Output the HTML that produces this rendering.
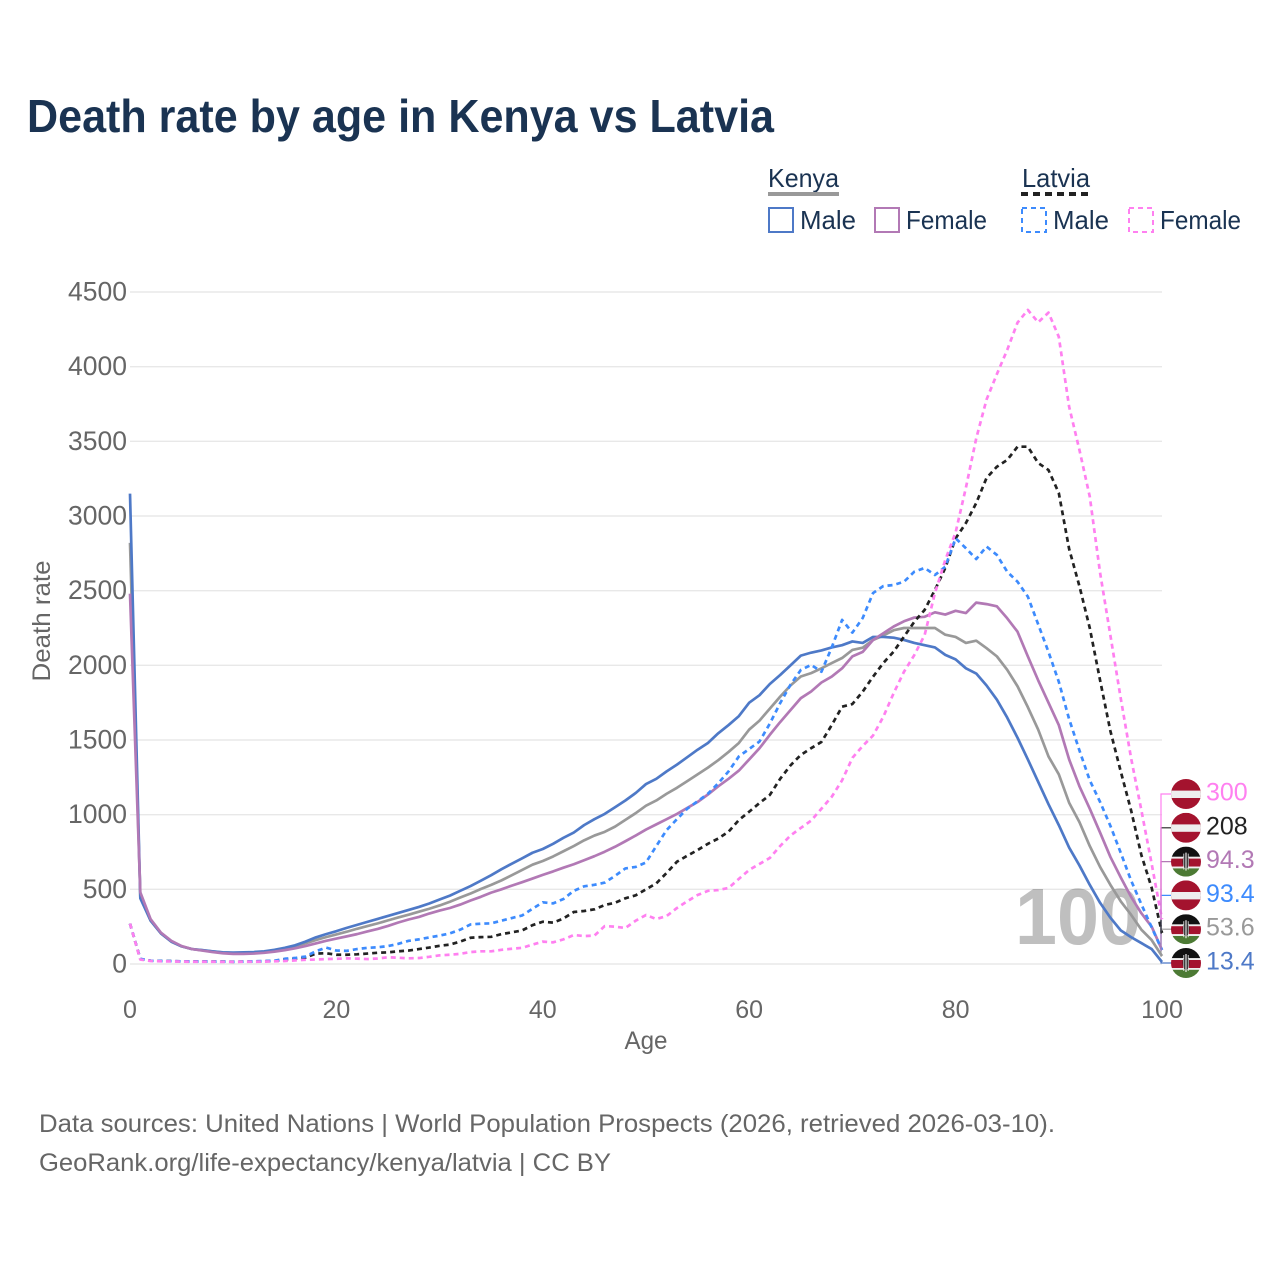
<!DOCTYPE html>
<html lang="en">
<head>
<meta charset="utf-8">
<title>Death rate by age in Kenya vs Latvia</title>
<style>
html,body{margin:0;padding:0;background:#fff;}
svg{display:block;font-family:"Liberation Sans",sans-serif;}
</style>
</head>
<body>
<svg id="chart" xmlns="http://www.w3.org/2000/svg" width="1280" height="1280" viewBox="0 0 1280 1280">
  <defs>
    <clipPath id="flag-clip"><circle cx="0" cy="0" r="15"></circle></clipPath>
  </defs>
  <rect width="1280" height="1280" fill="#fff"></rect>
  <text x="27" y="132" font-size="46" font-weight="700" fill="#1a3352" textLength="747" lengthAdjust="spacingAndGlyphs">Death rate by age in Kenya vs Latvia</text>

  <g font-size="26" fill="#1a3352">
    <text x="768" y="187" textLength="71" lengthAdjust="spacingAndGlyphs">Kenya</text>
    <line x1="768" y1="194" x2="839" y2="194" stroke="#999" stroke-width="4"></line>
    <text x="1022" y="187" textLength="68" lengthAdjust="spacingAndGlyphs">Latvia</text>
    <line x1="1021" y1="194" x2="1090" y2="194" stroke="#222" stroke-width="4" stroke-dasharray="7 5"></line>
    <rect x="769" y="208" width="24" height="24" fill="none" stroke="#4e79c7" stroke-width="2"></rect>
    <text x="800" y="229" textLength="56" lengthAdjust="spacingAndGlyphs">Male</text>
    <rect x="875" y="208" width="24" height="24" fill="none" stroke="#b279b5" stroke-width="2"></rect>
    <text x="906" y="229" textLength="81" lengthAdjust="spacingAndGlyphs">Female</text>
    <rect x="1022" y="208" width="24" height="24" fill="none" stroke="#3d8bfd" stroke-width="2" stroke-dasharray="5 4"></rect>
    <text x="1053" y="229" textLength="56" lengthAdjust="spacingAndGlyphs">Male</text>
    <rect x="1129" y="208" width="24" height="24" fill="none" stroke="#ff80f0" stroke-width="2" stroke-dasharray="5 4"></rect>
    <text x="1160" y="229" textLength="81" lengthAdjust="spacingAndGlyphs">Female</text>
  </g>

  <g id="grid"></g>
  <g id="yticks" font-size="26.5" fill="#666" text-anchor="end"></g>
  <g id="xticks" font-size="25" fill="#666" text-anchor="middle"></g>
  <text x="0" y="0" transform="translate(50 621) rotate(-90)" font-size="25" fill="#666" text-anchor="middle" textLength="121" lengthAdjust="spacingAndGlyphs">Death rate</text>
  <text x="646" y="1049" font-size="25" fill="#666" text-anchor="middle" textLength="43" lengthAdjust="spacingAndGlyphs">Age</text>

  <text x="1141" y="944" font-size="80" font-weight="700" fill="#000" fill-opacity="0.25" text-anchor="end" textLength="126" lengthAdjust="spacingAndGlyphs">100</text>

  <g id="series"></g>
  <g id="endlabels"></g>

  <g font-size="25" fill="#666">
    <text x="39" y="1132" textLength="1016" lengthAdjust="spacingAndGlyphs">Data sources: United Nations | World Population Prospects (2026, retrieved 2026-03-10).</text>
    <text x="39" y="1171" textLength="572" lengthAdjust="spacingAndGlyphs">GeoRank.org/life-expectancy/kenya/latvia | CC BY</text>
  </g>
</svg>
<script>
var xTicks = [0, 20, 40, 60, 80, 100];
var yTicks = [0, 500, 1000, 1500, 2000, 2500, 3000, 3500, 4000, 4500];

var kenyaAll = [2820,450,290,205,150,118,100,92,84,77,74,75,77,82,90,102,118,138,160,180,198,216,236,254,272,292,312,330,350,370,392,417,445,472,502,530,560,595,630,665,690,720,755,790,828,860,885,920,965,1010,1060,1095,1140,1180,1225,1270,1315,1365,1420,1480,1570,1630,1710,1790,1865,1925,1948,1980,2015,2049,2103,2118,2170,2200,2235,2250,2250,2250,2250,2205,2190,2150,2165,2115,2060,1970,1860,1720,1570,1390,1270,1080,950,790,650,530,420,330,230,160,53.6];
var kenyaMale = [3150,440,290,205,150,118,100,93,85,78,76,78,80,85,95,108,125,150,178,200,220,242,262,282,302,322,342,362,382,405,432,458,490,522,558,595,635,672,708,745,770,805,845,880,930,970,1005,1050,1095,1145,1205,1240,1290,1335,1385,1435,1480,1545,1600,1660,1750,1800,1875,1935,2000,2065,2085,2100,2120,2135,2160,2150,2190,2190,2185,2170,2150,2135,2120,2070,2040,1980,1945,1865,1770,1650,1515,1370,1220,1070,930,780,660,530,410,310,225,180,140,100,13.4];
var kenyaFemale = [2480,480,300,210,155,120,100,90,80,72,68,68,70,75,83,93,105,120,138,155,170,185,200,218,235,255,278,298,315,338,358,375,398,425,450,478,500,525,548,572,597,620,645,668,695,722,752,785,822,860,900,935,970,1005,1045,1085,1135,1190,1240,1295,1370,1445,1535,1620,1700,1780,1825,1885,1925,1980,2060,2090,2170,2215,2260,2295,2320,2325,2355,2340,2365,2350,2420,2410,2395,2315,2225,2060,1900,1750,1600,1370,1190,1040,880,717,580,450,340,250,94.3];
var latviaAll = [270,33,22,20,19,18,17,17,16,16,15,16,17,18,20,30,35,42,70,72,62,62,65,70,75,78,85,90,100,110,122,130,150,176,180,182,200,212,225,260,283,277,305,348,355,366,395,410,440,460,500,540,610,685,725,763,805,840,886,964,1020,1078,1132,1240,1330,1400,1445,1487,1600,1723,1741,1824,1924,2016,2092,2192,2292,2371,2505,2652,2850,2953,3087,3255,3330,3375,3464,3464,3355,3308,3154,2780,2530,2250,1900,1560,1290,1030,730,510,208];
var latviaMale = [270,35,22,20,19,18,17,17,16,16,15,16,18,20,22,35,40,50,85,110,90,88,100,108,112,120,135,155,165,178,190,205,230,265,270,272,290,308,325,370,413,406,435,490,520,530,545,590,640,650,680,790,897,970,1040,1090,1140,1210,1290,1390,1440,1490,1610,1747,1870,1969,2003,1957,2120,2304,2219,2317,2484,2531,2538,2560,2627,2652,2605,2660,2851,2784,2712,2795,2739,2627,2560,2460,2275,2090,1890,1640,1430,1230,1085,925,745,560,400,245,93.4];
var latviaFemale = [270,30,20,18,17,16,15,15,15,14,14,15,15,16,18,20,24,28,30,33,35,38,36,33,37,45,42,38,40,48,58,62,68,80,85,85,95,102,108,130,150,145,165,194,187,190,254,250,241,290,328,301,321,375,420,462,490,495,509,570,630,670,710,790,860,911,960,1040,1120,1230,1380,1460,1530,1656,1814,1957,2069,2203,2484,2705,2890,3190,3520,3780,3950,4112,4295,4380,4297,4362,4200,3732,3442,3130,2620,2200,1780,1380,1030,670,300];

var SVGNS = 'http://www.w3.org/2000/svg';
function xScale(age) { return 130 + age * (1162 - 130) / 100; }
function yScale(v) { return 964 - v * (964 - 292) / 4500; }
function mk(tag, attrs, parent) {
  var el = document.createElementNS(SVGNS, tag);
  for (var k in attrs) { el.setAttribute(k, attrs[k]); }
  parent.appendChild(el);
  return el;
}

var grid = document.getElementById('grid');
var yG = document.getElementById('yticks');
var xG = document.getElementById('xticks');
yTicks.forEach(function (t) {
  var line = mk('line', {x1: 130, x2: 1162, y1: yScale(t), y2: yScale(t), stroke: '#e8e8e8', 'stroke-width': 1.4}, grid);
  
  
  var label = mk('text', {x: 127, y: yScale(t) + 8.5}, yG);
  label.textContent = String(t);
  
  
});
xTicks.forEach(function (t) {
  var label = mk('text', {x: xScale(t), y: 1018}, xG);
  label.textContent = String(t);
  
  
});

var seriesDefs = [
  {id: 'kenya-both', values: kenyaAll, color: '#999999', dash: '', flag: 'kenya'},
  {id: 'kenya-male', values: kenyaMale, color: '#4e79c7', dash: '', flag: 'kenya'},
  {id: 'kenya-female', values: kenyaFemale, color: '#b279b5', dash: '', flag: 'kenya'},
  {id: 'latvia-both', values: latviaAll, color: '#222222', dash: '5 4', flag: 'latvia'},
  {id: 'latvia-male', values: latviaMale, color: '#3d8bfd', dash: '5 4', flag: 'latvia'},
  {id: 'latvia-female', values: latviaFemale, color: '#ff80f0', dash: '5 4', flag: 'latvia'}
];

var seriesG = document.getElementById('series');
seriesDefs.forEach(function (s) {
  var d = s.values.map(function (v, i) {
    return (i ? 'L' : 'M') + xScale(i).toFixed(2) + ' ' + yScale(v).toFixed(2);
  }).join('');
  var path = mk('path', {d: d, fill: 'none', stroke: s.color, 'stroke-width': 2.7, 'stroke-linejoin': 'round'}, seriesG);
  if (s.dash) { path.setAttribute('stroke-dasharray', s.dash); }
  
  
});

function drawFlag(kind, cy, parent) {
  var g = mk('g', {transform: 'translate(1186 ' + cy + ')', 'clip-path': 'url(#flag-clip)'}, parent);
  
  
  if (kind === 'latvia') {
    mk('rect', {x: -15, y: -15, width: 30, height: 30, fill: '#a4132e'}, g);
    mk('rect', {x: -15, y: -3.4, width: 30, height: 7.4, fill: '#eeeeee'}, g);
  } else {
    mk('rect', {x: -15, y: -15, width: 30, height: 10.2, fill: '#111111'}, g);
    mk('rect', {x: -15, y: -4.8, width: 30, height: 1.8, fill: '#eeeeee'}, g);
    mk('rect', {x: -15, y: -3, width: 30, height: 8, fill: '#a4132e'}, g);
    mk('rect', {x: -15, y: 5, width: 30, height: 1.8, fill: '#eeeeee'}, g);
    mk('rect', {x: -15, y: 6.8, width: 30, height: 8.2, fill: '#4c7a34'}, g);
    mk('ellipse', {cx: 0, cy: 0, rx: 3.4, ry: 7, fill: '#111111'}, g);
    mk('rect', {x: -0.6, y: -9, width: 1.2, height: 18, fill: '#eeeeee'}, g);
    mk('rect', {x: -2.6, y: -8, width: 0.8, height: 16, fill: '#eeeeee'}, g);
    mk('rect', {x: 1.8, y: -8, width: 0.8, height: 16, fill: '#eeeeee'}, g);
  }
}

var endG = document.getElementById('endlabels');
var order = seriesDefs.slice().sort(function (a, b) {
  return a.values[100] - b.values[100];
});
order.forEach(function (s, i) {
  var cy = 963 - i * 33.8;
  var endValue = s.values[100];
  var conn = mk('path', {d: 'M1162 ' + yScale(endValue).toFixed(2) + 'H1161V' + cy.toFixed(2) + 'H1172', fill: 'none', stroke: s.color, 'stroke-width': 1.2}, endG);
  
  
  drawFlag(s.flag, cy, endG);
  var label = mk('text', {x: 1206, y: cy + 6.5, 'font-size': 25, fill: s.color}, endG);
  label.textContent = String(endValue);
  
  
});
</script>
</body>
</html>
